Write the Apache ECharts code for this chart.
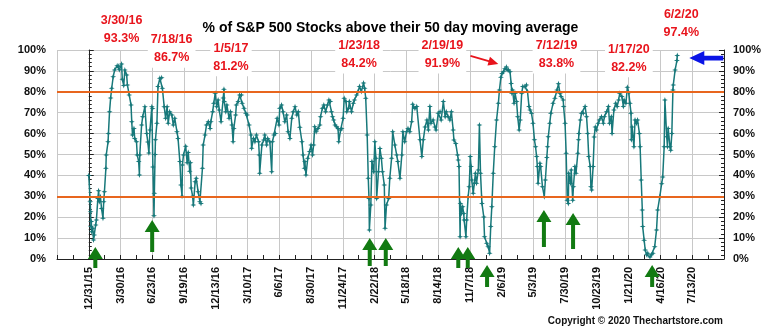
<!DOCTYPE html>
<html>
<head>
<meta charset="utf-8">
<script src="https://cdn.jsdelivr.net/npm/echarts@6/dist/echarts.min.js"></script>
<style>
  html, body { margin: 0; padding: 0; background: #fff; }
  #chart { width: 781px; height: 333px; }
</style>
</head>
<body>
<div id="chart"></div>
<script>
// ---- data -------------------------------------------------------------
const tickLabels = ['12/31/15','3/30/16','6/23/16','9/19/16','12/13/16','3/10/17','6/6/17','8/30/17',
  '11/24/17','2/22/18','5/18/18','8/14/18','11/7/18','2/6/19','5/3/19','7/30/19','10/23/19','1/21/20',
  '4/16/20','7/13/20'];

const dates2016 = ['12/31/15','1/4/16','1/5/16','1/6/16','1/7/16','1/8/16','1/11/16','1/13/16','1/15/16','1/19/16',
  '1/21/16','1/25/16','1/27/16','1/29/16','2/1/16','2/4/16','2/8/16','2/10/16','2/12/16','2/16/16','2/17/16',
  '2/22/16','2/23/16','2/26/16','2/29/16','3/3/16','3/7/16','3/11/16','3/18/16','3/22/16','3/24/16','3/30/16',
  '4/1/16','4/5/16','4/8/16','4/13/16','4/15/16','4/20/16','4/25/16','4/27/16','4/29/16','5/3/16','5/5/16',
  '5/10/16','5/12/16','5/16/16','5/18/16','5/19/16','5/24/16','5/27/16','6/2/16','6/7/16','6/10/16','6/13/16',
  '6/16/16','6/21/16','6/23/16','6/24/16','6/27/16','6/28/16','6/30/16','7/1/16','7/5/16','7/8/16','7/13/16',
  '7/18/16','7/20/16','7/25/16','7/29/16','8/2/16','8/5/16','8/9/16','8/15/16','8/19/16','8/23/16','8/29/16',
  '9/1/16','9/6/16','9/9/16','9/12/16','9/13/16','9/16/16','9/22/16','9/26/16','9/29/16','10/3/16','10/5/16',
  '10/7/16','10/11/16','10/13/16','10/18/16','10/21/16','10/26/16','10/31/16','11/3/16','11/7/16','11/9/16',
  '11/14/16','11/18/16','11/23/16','11/28/16','11/30/16','12/5/16','12/8/16','12/12/16','12/16/16','12/20/16',
  '12/23/16','12/28/16'];
const values2016 = [40,27.4,22.6,15.5,17.9,13,14.7,9.1,11.5,16.3,
  18.7,29,32.7,27.4,29.8,24.2,19.5,27.4,32.2,43.4,49.8,
  56.1,60.1,70.5,77,81.7,87.2,90.4,92.5,92.2,90.5,93.3,
  86,83,90.4,88,83.3,78.5,73.7,65.7,59.3,62.5,57.7,
  56.1,49.8,46.6,40.2,49.8,64.1,68.1,72.9,60,56,50.7,
  61.7,72.9,72,44,20.7,31.4,50,57,65,82.5,86.5,
  86.7,81.7,72.9,67.3,72.9,64.9,70.5,68.9,64.1,67.3,60.9,
  57.7,46.6,35.4,30,45,49.8,54,46,51,42,46,
  34,30,25.8,37,38.6,32.2,27.4,26.6,43.4,54.5,
  59.3,64.1,65.7,62.5,65.7,70.5,74.5,79.3,72.9,76.1,
  71.3,65.7];

const dates2017 = ['1/3/17','1/5/17','1/6/17','1/10/17','1/13/17','1/19/17','1/23/17','1/27/17','1/30/17','2/1/17',
  '2/6/17','2/8/17','2/13/17','2/17/17','2/22/17','2/24/17','3/1/17','3/6/17','3/10/17','3/15/17','3/20/17',
  '3/22/17','3/27/17','3/31/17','4/4/17','4/10/17','4/12/17','4/13/17','4/19/17','4/24/17','4/27/17','5/2/17',
  '5/5/17','5/11/17','5/16/17','5/18/17','5/22/17','5/26/17','5/31/17','6/5/17','6/7/17','6/12/17','6/16/17',
  '6/21/17','6/26/17','6/30/17','7/5/17','7/10/17','7/14/17','7/19/17','7/24/17','7/28/17','8/1/17','8/7/17',
  '8/10/17','8/14/17','8/15/17','8/18/17','8/23/17','8/28/17','9/1/17','9/5/17','9/8/17','9/11/17','9/15/17',
  '9/20/17','9/25/17','9/27/17','10/2/17','10/6/17','10/11/17','10/16/17','10/20/17','10/24/17','10/27/17',
  '10/30/17','11/2/17','11/6/17','11/10/17','11/14/17','11/16/17','11/21/17','11/24/17','11/28/17','12/1/17',
  '12/6/17','12/8/17','12/13/17','12/15/17','12/21/17','12/26/17','12/29/17'];
const values2017 = [77,81.2,75.3,70.5,73.7,67.3,70.5,64.1,56.1,62.5,
  68.9,73.7,75.3,78.5,78.5,74.5,72.1,69.7,68.9,64.1,59.3,
  53,57.7,56.1,59.3,56.1,49.8,41,54.5,56.9,59.3,54.5,
  57.7,56.1,41.8,56.1,59.3,60.1,67.3,64.1,72.1,73.7,70.5,
  65.7,68.9,60.9,57.7,67.3,70.5,72.9,68.9,70.5,63,56.1,
  49.8,43.4,46.6,40.2,48.2,51.4,54.5,49.8,54.5,63.3,60.9,
  62.5,64.1,68.1,72.1,73.7,70.5,73.7,76.1,75.3,70.5,
  68.1,66.5,64.1,63.3,62.5,56.1,61.7,62.5,67.3,76.9,
  75.3,70.5,72.1,75.3,70.5,74.5,76.1];

const dates2018 = ['1/4/18','1/8/18','1/12/18','1/17/18','1/23/18','1/26/18','1/29/18','2/2/18','2/5/18','2/7/18',
  '2/8/18','2/12/18','2/15/18','2/20/18','2/23/18','2/26/18','2/28/18','3/5/18','3/9/18','3/13/18','3/16/18',
  '3/21/18','3/23/18','3/27/18','4/2/18','4/5/18','4/10/18','4/13/18','4/19/18','4/24/18','4/27/18','5/3/18',
  '5/8/18','5/11/18','5/16/18','5/21/18','5/25/18','5/30/18','6/4/18','6/7/18','6/13/18','6/18/18','6/27/18',
  '7/2/18','7/6/18','7/11/18','7/16/18','7/20/18','7/24/18','7/27/18','8/2/18','8/7/18','8/10/18','8/16/18',
  '8/21/18','8/24/18','8/30/18','9/4/18','9/7/18','9/12/18','9/17/18','9/21/18','9/26/18','9/28/18','10/3/18',
  '10/8/18','10/10/18','10/12/18','10/15/18','10/16/18','10/19/18','10/22/18','10/25/18','10/26/18','10/31/18',
  '11/2/18','11/6/18','11/9/18','11/12/18','11/14/18','11/16/18','11/20/18','11/23/18','11/26/18','11/29/18',
  '12/4/18','12/7/18','12/10/18','12/13/18','12/14/18','12/19/18','12/21/18','12/27/18','12/31/18'];
const values2018 = [78.5,80.1,82.5,80.1,84.2,81.7,76.9,59.3,38.6,29,
  13.9,25.8,46.6,41.8,56.1,48.2,29,41.8,52.9,48.2,41.8,
  35.4,14.7,25.8,29,38.6,48.2,60.9,54.5,49.8,46.6,38.6,
  49.8,60.9,56.1,60.9,62.5,60.9,65.7,74,72,73,57,
  49,57,63.2,66.5,61.7,73,65,66.5,63.2,61.7,69.7,
  70.5,66.5,75.3,68.1,70.5,68.1,66.5,70.5,61.7,56.9,55.3,
  49.8,47.4,44.2,10.7,26.6,21.8,25,21.8,18.7,10.7,
  18.7,29.8,34.6,49,44.2,37.8,31.4,36.2,41,36.2,
  42.6,64.1,41,29.8,26.6,20.1,10.7,7.5,5.9];

const dates2019 = ['1/4/19','1/7/19','1/10/19','1/14/19','1/18/19','1/23/19','1/28/19','1/31/19','2/4/19','2/7/19',
  '2/11/19','2/15/19','2/19/19','2/21/19','2/25/19','3/1/19','3/4/19','3/6/19','3/8/19','3/12/19','3/15/19',
  '3/19/19','3/22/19','3/26/19','3/29/19','4/2/19','4/5/19','4/11/19','4/15/19','4/18/19','4/22/19','4/25/19',
  '4/29/19','5/3/19','5/7/19','5/10/19','5/13/19','5/15/19','5/17/19','5/22/19','5/24/19','5/29/19','6/3/19',
  '6/6/19','6/10/19','6/12/19','6/14/19','6/18/19','6/21/19','6/27/19','7/2/19','7/8/19','7/12/19','7/16/19',
  '7/19/19','7/25/19','7/26/19','7/30/19','8/2/19','8/5/19','8/8/19','8/9/19','8/14/19','8/16/19','8/20/19',
  '8/22/19','8/26/19','8/29/19','9/3/19','9/5/19','9/6/19','9/10/19','9/13/19','9/18/19','9/23/19','9/27/19',
  '9/30/19','10/3/19','10/7/19','10/9/19','10/11/19','10/15/19','10/18/19','10/21/19','10/24/19','10/29/19',
  '11/1/19','11/7/19','11/12/19','11/15/19','11/21/19','11/26/19','11/29/19','12/4/19','12/6/19','12/11/19',
  '12/16/19','12/20/19','12/24/19','12/27/19'];
const values2019 = [2.7,15.5,25,41,53.7,66.5,74.5,80.9,87,88.8,
  89.6,91,91.9,90.5,90.4,89.6,84,79.3,80.9,74.5,79.3,
  75.3,68.1,61.7,66.5,79.3,82.5,82.5,83.3,80.1,73,71.3,
  69.7,65,57,53.7,49,44.2,36.2,45.8,44.2,34.6,29.8,
  37.8,48.6,53.7,58.5,64.9,69.7,74.5,76.9,80.9,83.8,79.3,
  77.7,76.1,73,64.9,50.6,28.1,26.6,41,36.2,42.6,28.1,
  34.6,44.2,41,50.6,57,60.1,66.5,69.7,69.7,73,68.1,
  60.1,49,44.2,34.6,33,44.2,58.4,63.2,61.7,65,
  66.5,68.1,65,68.1,70.5,73,65,68.1,60.1,71.3,
  74.5,73,76.1,79.3];

const dates2020 = ['1/2/20','1/6/20','1/8/20','1/13/20','1/17/20','1/21/20','1/24/20','1/27/20','1/28/20','1/30/20',
  '2/4/20','2/7/20','2/11/20','2/14/20','2/19/20','2/21/20','2/24/20','2/27/20','2/28/20','3/3/20','3/6/20',
  '3/10/20','3/13/20','3/19/20','3/23/20','3/27/20','4/1/20','4/6/20','4/9/20','4/15/20','4/20/20','4/23/20',
  '4/27/20','4/29/20','5/4/20','5/6/20','5/8/20','5/13/20','5/15/20','5/18/20','5/21/20','5/22/20','5/27/20',
  '6/1/20','6/2/20'];
const values2020 = [77.7,73,76.1,74.5,82.2,79.5,74.5,69.7,57,63.2,
  53.7,66.5,64.9,66.5,60.1,53.7,37.8,23.4,15.5,9,4.3,
  2,2.7,1,2,2.7,5.9,13.9,23.4,29.8,36,39.2,
  53.7,76.1,58.5,53.7,62.5,53.7,52,60.1,80.9,83.3,90.4,
  95,97.4];

// Dates whose readings are called out above the plot
const peakDates = ['3/30/16','7/18/16','1/5/17','1/23/18','2/19/19','7/12/19','1/17/20','6/2/20'];
// Dates of the oversold buy signals (green arrows)
const signalDates = ['1/18/16','6/22/16','2/9/18','3/25/18','10/10/18','11/5/18','12/28/18','6/2/19','8/21/19','3/25/20'];
// Overbought / oversold reference levels
const levels = [80, 30];

// ---- styling ----------------------------------------------------------
const FONT = '"Liberation Sans", Arial, Helvetica, sans-serif';
const TEAL = '#17787a';
const GREEN = '#127a12';
const RED = '#e8141c';
const peakLabelOffsets = [[0,-34],[10,-29],[7,-32],[-4.5,-28.5],[-64,-12.4],[-2,-29.4],[1.5,-29],[4,-31.4]];
const signalTip = [-12,-39,-21,-21,-12,-12,6,-49,-46,6];   // arrow tip, px from the 0% line
const signalLen = [21,32,28,28,21,21,22,37,36,22];

// ---- helpers ----------------------------------------------------------
const ORIGIN = Date.UTC(2015, 11, 31);
function dayOf(s) {
  const [m, d, y] = s.split('/').map(Number);
  return Math.round((Date.UTC(2000 + y, m - 1, d) - ORIGIN) / 864e5);
}
const dates = [].concat(dates2016, dates2017, dates2018, dates2019, dates2020);
const values = [].concat(values2016, values2017, values2018, values2019, values2020);
const seriesData = dates.map((d, i) => [dayOf(d), values[i]]);
const valueAt = d => values[dates.indexOf(d)];

const STEP = (dayOf(tickLabels[tickLabels.length - 1]) - dayOf(tickLabels[0])) / (tickLabels.length - 1);

function upArrow(len) {
  return `path://M7.5,0L15,12L9.5,12L9.5,${len}L5.5,${len}L5.5,12L0,12Z`;
}

const markPoints = [];
peakDates.forEach((d, i) => {
  const v = valueAt(d);
  markPoints.push({
    coord: [dayOf(d), v],
    value: v,
    symbol: 'circle',
    symbolSize: 1,
    itemStyle: { color: 'rgba(0,0,0,0)' },
    label: {
      show: true,
      position: 'inside',
      offset: peakLabelOffsets[i],
      formatter: `${d}\n${v.toFixed(1)}%`,
      color: RED,
      fontFamily: FONT,
      fontWeight: 'bold',
      fontSize: 12.5,
      lineHeight: 18,
      align: 'center',
      verticalAlign: 'middle',
      backgroundColor: '#fff',
      padding: [1, 3]
    }
  });
});
signalDates.forEach((d, i) => {
  markPoints.push({
    coord: [dayOf(d), 0],
    symbol: upArrow(signalLen[i]),
    symbolSize: [15, signalLen[i]],
    symbolOffset: [0, signalTip[i] + signalLen[i] / 2],
    itemStyle: { color: GREEN },
    label: { show: false }
  });
});
// red arrow towards the 2019 high
markPoints.push({
  coord: [dayOf('2/19/19'), valueAt('2/19/19')],
  symbol: 'path://M0,3.6L19,3.6L19,0L29,4.5L19,9L19,5.4L0,5.4Z',
  symbolSize: [29, 9],
  symbolRotate: -16,
  symbolOffset: [-22, -7],
  itemStyle: { color: RED },
  label: { show: false }
});
// blue arrow towards the latest reading
markPoints.push({
  coord: [dayOf('6/2/20'), valueAt('6/2/20')],
  symbol: 'path://M0,7L15,0L15,4.6L34,4.6L34,9.4L15,9.4L15,14Z',
  symbolSize: [34, 14],
  symbolOffset: [29, 2.6],
  itemStyle: { color: '#0a14e6' },
  label: { show: false }
});

const pctAxis = (position, margin) => ({
  type: 'value',
  position,
  min: 0,
  max: 100,
  interval: 10,
  axisLine: { show: true, lineStyle: { color: '#222', width: 1 } },
  axisTick: { show: true, inside: true, length: 5, lineStyle: { color: '#222' } },
  minorTick: { show: true, splitNumber: 5, length: 3, lineStyle: { color: '#222' } },
  axisLabel: {
    formatter: '{value}%',
    color: '#111',
    fontFamily: FONT,
    fontWeight: 'bold',
    fontSize: 11,
    margin
  },
  splitLine: { show: position === 'left', lineStyle: { color: '#c8c8c8', width: 1 } }
});

const chart = echarts.init(document.getElementById('chart'), null, { renderer: 'canvas' });
chart.setOption({
  animation: false,
  backgroundColor: '#fff',
  title: {
    text: '% of S&P 500 Stocks above their 50 day moving average',
    left: 'center',
    top: 16,
    textStyle: { fontFamily: FONT, fontWeight: 'bold', fontSize: 14, color: '#000' }
  },
  grid: { left: 57, right: 57, top: 50, bottom: 74, outerBoundsMode: 'none', containLabel: false },
  xAxis: {
    type: 'value',
    min: -STEP,
    max: STEP * tickLabels.length,
    interval: STEP,
    axisLine: { show: true, onZero: false, lineStyle: { color: '#222', width: 1 } },
    axisTick: { show: true, inside: true, length: 4, lineStyle: { color: '#222' } },
    minorTick: { show: true, splitNumber: 2, length: 4, lineStyle: { color: '#222' } },
    axisLabel: {
      rotate: 90,
      margin: 8,
      color: '#111',
      fontFamily: FONT,
      fontWeight: 'bold',
      fontSize: 11,
      showMinLabel: true,
      showMaxLabel: true,
      formatter: v => {
        const k = Math.round(v / STEP);
        return k >= 0 && k < tickLabels.length ? tickLabels[k] : '';
      }
    },
    splitLine: { show: true, lineStyle: { color: '#c8c8c8', width: 1 } }
  },
  yAxis: [pctAxis('left', 11), pctAxis('right', 9)],
  graphic: [{
    type: 'text',
    right: 58,
    top: 316,
    style: {
      text: 'Copyright \u00a9 2020 Thechartstore.com',
      font: `bold 10px ${FONT}`,
      fill: '#111'
    }
  }],
  series: [{
    type: 'line',
    data: seriesData,
    yAxisIndex: 0,
    symbol: 'path://M0,-4L1,-1L4,0L1,1L0,4L-1,1L-4,0L-1,-1Z',
    symbolSize: 6,
    showSymbol: true,
    lineStyle: { color: TEAL, width: 1.5 },
    itemStyle: { color: TEAL },
    z: 3,
    markLine: {
      silent: true,
      symbol: 'none',
      label: { show: false },
      lineStyle: { color: '#e8661e', width: 2, type: 'solid' },
      data: levels.map(v => ({ yAxis: v }))
    },
    markPoint: {
      silent: true,
      data: markPoints
    }
  }]
});
</script>
</body>
</html>
